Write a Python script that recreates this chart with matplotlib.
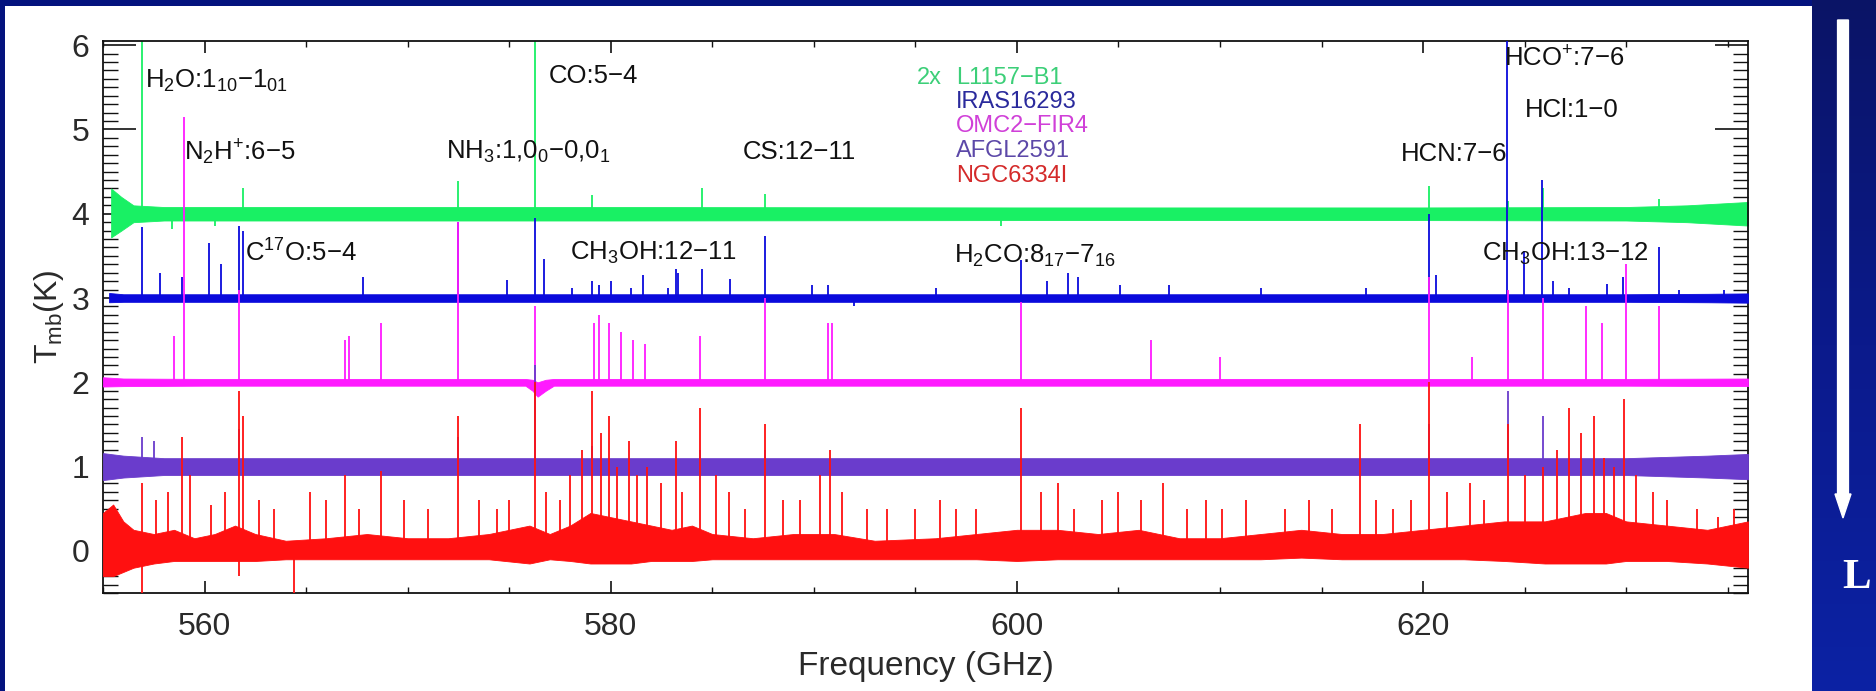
import numpy as np
import matplotlib
matplotlib.use("Agg")
import matplotlib.pyplot as plt
from matplotlib.patches import FancyArrow
from matplotlib.colors import LinearSegmentedColormap

plt.rcParams['font.family'] = ['Liberation Sans', 'DejaVu Sans']
plt.rcParams['mathtext.fontset'] = 'custom'
plt.rcParams['mathtext.rm'] = 'Liberation Sans'
plt.rcParams['mathtext.it'] = 'Liberation Sans'
plt.rcParams['mathtext.bf'] = 'Liberation Sans:bold'

# ---------------- data ----------------
sources = ["L1157\u2212B1", "IRAS16293", "OMC2\u2212FIR4", "AFGL2591", "NGC6334I"]
offsets = [4.0, 3.0, 2.0, 1.0, 0.0]

# noise envelopes (frequency knots, lower / upper deviation from baseline)
green_env_freq = [555.4, 555.9, 556.5, 558.0, 580.0, 600.0, 620.0, 630.0, 633.0, 634.5, 636.0]
green_env_lo = [-0.28, -0.2, -0.1, -0.08, -0.08, -0.075, -0.075, -0.08, -0.1, -0.12, -0.14]
green_env_hi = [0.3, 0.2, 0.1, 0.08, 0.08, 0.075, 0.075, 0.08, 0.1, 0.12, 0.14]

blue_env_freq = [555.3, 556.0, 560.0, 600.0, 630.0, 634.0, 636.0]
blue_env_lo = [-0.05, -0.045, -0.045, -0.045, -0.045, -0.05, -0.055]
blue_env_hi = [0.06, 0.045, 0.045, 0.045, 0.045, 0.05, 0.055]

magenta_env_freq = [555.0, 556.0, 560.0, 575.8, 576.15, 576.4, 576.8, 577.2, 600.0, 630.0, 636.0]
magenta_env_lo = [-0.05, -0.045, -0.04, -0.04, -0.1, -0.17, -0.1, -0.04, -0.04, -0.04, -0.045]
magenta_env_hi = [0.06, 0.045, 0.04, 0.04, 0.03, 0.0, 0.03, 0.04, 0.04, 0.04, 0.045]

purple_env_freq = [555.0, 556.0, 558.0, 580.0, 600.0, 630.0, 634.0, 636.0]
purple_env_lo = [-0.16, -0.13, -0.1, -0.1, -0.1, -0.1, -0.13, -0.15]
purple_env_hi = [0.16, 0.13, 0.1, 0.1, 0.1, 0.1, 0.13, 0.15]

red_env_freq = [555.0, 555.5, 556.0, 556.5, 557.5, 558.5, 559.5, 560.5, 561.5, 562.5, 564.0, 566.0,
                568.0, 570.0, 572.0, 574.0, 576.0, 577.0, 578.0, 579.0, 580.0, 581.0, 582.0, 583.0,
                584.0, 585.0, 587.0, 589.0, 591.0, 593.0, 596.0, 598.0, 600.0, 602.0, 604.0, 606.0,
                608.0, 610.0, 612.0, 614.0, 616.0, 618.0, 620.0, 622.0, 624.0, 626.0, 628.0, 629.0,
                630.0, 632.0, 634.0, 636.0]
red_env_lo = [-0.3, -0.3, -0.25, -0.2, -0.15, -0.12, -0.12, -0.12, -0.12, -0.12, -0.1, -0.1,
              -0.1, -0.1, -0.1, -0.1, -0.15, -0.1, -0.12, -0.15, -0.15, -0.15, -0.12, -0.12,
              -0.12, -0.1, -0.1, -0.1, -0.1, -0.1, -0.1, -0.1, -0.12, -0.1, -0.1, -0.1,
              -0.1, -0.1, -0.1, -0.08, -0.1, -0.1, -0.1, -0.1, -0.12, -0.15, -0.15, -0.15,
              -0.12, -0.12, -0.15, -0.2]
red_env_hi = [0.45, 0.55, 0.35, 0.25, 0.2, 0.25, 0.15, 0.2, 0.3, 0.2, 0.12, 0.15,
              0.2, 0.15, 0.15, 0.2, 0.3, 0.2, 0.3, 0.45, 0.4, 0.35, 0.3, 0.25,
              0.3, 0.2, 0.15, 0.2, 0.2, 0.12, 0.15, 0.2, 0.25, 0.25, 0.2, 0.25,
              0.15, 0.15, 0.2, 0.25, 0.2, 0.2, 0.25, 0.3, 0.35, 0.35, 0.45, 0.45,
              0.35, 0.3, 0.25, 0.35]

# spectral lines: frequency (GHz) and peak value (K, including offset)
green_line_freq = [556.94, 576.27, 572.50, 561.90, 579.10, 584.50, 587.60, 620.30, 625.90, 631.60,
                   558.40, 560.50, 599.20, 624.20]
green_line_peak = [6.5, 6.5, 4.39, 4.30, 4.22, 4.30, 4.24, 4.33, 4.30, 4.18,
                   3.82, 3.85, 3.86, 4.15]

blue_line_freq = [556.94, 557.80, 558.90, 560.20, 560.80, 561.70, 561.90, 567.80, 572.50, 574.90,
                  576.27, 576.70, 578.10, 579.10, 579.40, 580.00, 581.00, 581.60, 582.80, 583.20,
                  583.30, 584.50, 585.85, 587.60, 589.90, 590.70, 592.00, 596.00, 600.20, 601.50,
                  602.50, 603.00, 605.10, 607.50, 612.00, 617.20, 620.30, 620.65, 624.14, 624.98,
                  625.87, 626.40, 627.20, 629.06, 629.85, 631.60, 632.60, 634.80]
blue_line_peak = [3.84, 3.30, 3.25, 3.65, 3.40, 3.85, 3.80, 3.25, 3.90, 3.21,
                  3.95, 3.46, 3.12, 3.20, 3.15, 3.20, 3.12, 3.27, 3.12, 3.34,
                  3.30, 3.35, 3.23, 3.74, 3.15, 3.15, 2.90, 3.12, 3.45, 3.20,
                  3.30, 3.25, 3.15, 3.15, 3.12, 3.12, 4.00, 3.27, 6.5, 3.56,
                  4.40, 3.20, 3.12, 3.17, 3.25, 3.60, 3.10, 3.10]

magenta_line_freq = [558.50, 558.97, 561.70, 566.90, 567.10, 568.70, 572.50, 576.27, 579.20, 579.40,
                     579.90, 580.50, 581.10, 581.70, 584.40, 587.60, 590.70, 590.90, 600.20, 606.60,
                     610.00, 620.30, 622.40, 624.20, 625.90, 628.00, 628.80, 630.00, 631.60]
magenta_line_peak = [2.55, 5.15, 3.10, 2.50, 2.55, 2.70, 3.90, 2.90, 2.70, 2.80,
                     2.70, 2.60, 2.50, 2.45, 2.55, 3.00, 2.70, 2.70, 2.95, 2.50,
                     2.30, 3.25, 2.30, 3.10, 3.00, 2.90, 2.70, 3.40, 2.90]

purple_line_freq = [556.94, 557.50, 561.70, 572.50, 576.27, 579.10, 584.40, 587.60, 620.30, 624.20, 625.90]
purple_line_peak = [1.35, 1.30, 1.45, 1.35, 2.20, 1.25, 1.20, 1.20, 1.50, 1.90, 1.60]

red_line_freq = [556.94, 557.60, 558.20, 558.90, 559.30, 560.30, 561.00, 561.70, 561.90, 562.70,
                 563.40, 565.20, 566.00, 566.90, 567.60, 568.70, 569.80, 571.00, 572.50, 573.50,
                 574.40, 575.00, 576.27, 576.80, 577.50, 578.00, 578.60, 579.10, 579.50, 579.90,
                 580.30, 580.90, 581.30, 581.80, 582.50, 583.20, 583.50, 584.40, 585.20, 585.80,
                 586.60, 587.60, 588.50, 589.30, 590.30, 590.80, 591.40, 592.60, 593.60, 595.00,
                 596.20, 597.00, 598.00, 600.20, 601.20, 602.00, 602.80, 604.20, 605.00, 606.10,
                 607.20, 608.40, 609.30, 610.10, 611.30, 613.20, 614.40, 615.50, 616.90, 617.70,
                 618.50, 619.40, 620.30, 621.20, 622.30, 623.00, 624.20, 625.00, 625.90, 626.60,
                 627.20, 627.80, 628.40, 628.90, 629.40, 629.90, 630.50, 631.30, 632.00, 633.50,
                 634.50, 635.30]
red_line_peak = [0.80, 0.60, 0.70, 1.35, 0.90, 0.55, 0.70, 1.90, 1.60, 0.60,
                 0.50, 0.70, 0.60, 0.90, 0.50, 0.95, 0.60, 0.50, 1.60, 0.60,
                 0.50, 0.60, 2.00, 0.70, 0.60, 0.90, 1.20, 1.90, 1.40, 1.60,
                 1.00, 1.30, 0.90, 1.00, 0.80, 1.30, 0.70, 1.70, 0.90, 0.70,
                 0.50, 1.50, 0.60, 0.60, 0.90, 1.20, 0.70, 0.50, 0.50, 0.50,
                 0.60, 0.50, 0.50, 1.70, 0.70, 0.80, 0.50, 0.60, 0.70, 0.60,
                 0.80, 0.50, 0.60, 0.50, 0.60, 0.50, 0.60, 0.50, 1.50, 0.60,
                 0.50, 0.60, 2.00, 0.70, 0.80, 0.60, 1.50, 0.90, 1.00, 1.20,
                 1.70, 1.40, 1.60, 1.10, 1.00, 1.80, 0.90, 0.70, 0.60, 0.50,
                 0.40, 0.50]
red_dip_freq = [556.94, 564.40, 561.70]
red_dip_depth = [-0.6, -0.6, -0.3]

# annotations: text, frequency of left edge, value of vertical centre
label_text = ["H$_2$O:1$_{10}$\u22121$_{01}$", "N$_2$H$^{+}$:6\u22125", "NH$_3$:1,0$_0$\u22120,0$_1$",
              "CO:5\u22124", "CS:12\u221211", "C$^{17}$O:5\u22124", "CH$_3$OH:12\u221211",
              "H$_2$CO:8$_{17}$\u22127$_{16}$", "HCN:7\u22126", "HCO$^{+}$:7\u22126", "HCl:1\u22120",
              "CH$_3$OH:13\u221212"]
label_freq = [557.05, 559.0, 571.9, 576.95, 586.5, 562.0, 578.0, 596.9, 618.9, 624.0, 625.0, 622.9]
label_val = [5.58, 4.73, 4.73, 5.64, 4.73, 3.53, 3.53, 3.50, 4.71, 5.84, 5.23, 3.52]

# ---------------- styles ----------------
spec_colors = ["#19f064", "#0a0adc", "#ff1aff", "#6a3ccc", "#ff1010"]
legend_colors = ["#3ccf78", "#2a2a9c", "#d040d8", "#5c48a8", "#d42a2a"]

W, H = 1876, 691
fig = plt.figure(figsize=(W / 100, H / 100), dpi=100)
fig.patch.set_facecolor("#04137e")

# white panel as a background axes
bg = fig.add_axes([5 / W, 0, (1812 - 5) / W, (H - 6) / H], zorder=-10)
bg.set_facecolor("white")
bg.set_xticks([])
bg.set_yticks([])
for s in bg.spines.values():
    s.set_visible(False)

# right gradient strip
sax = fig.add_axes([1812 / W, 0, (W - 1812) / W, 1], zorder=-10)
grad = np.linspace(0, 1, 256).reshape(-1, 1)
cmap = LinearSegmentedColormap.from_list("strip", ["#0a1466", "#0b1a8c", "#0c22a4"])
sax.imshow(grad, aspect="auto", cmap=cmap, extent=[0, 1, 1, 0])
sax.set_xlim(0, 1)
sax.set_ylim(1, 0)
sax.set_axis_off()

fig.patches.append(FancyArrow(1843 / W, 1 - 20 / H, 0, -(518 - 20) / H, width=4 / H,
                              head_width=16 / W, head_length=24 / H, length_includes_head=True,
                              transform=fig.transFigure, color="white", zorder=10))
fig.text(1857 / W, 1 - 578 / H, "L", color="white", fontsize=31, fontweight="bold",
         family="Liberation Serif", ha="center", va="center", zorder=10)

ax = fig.add_axes([103 / W, 1 - 593 / H, (1748 - 103) / W, (593 - 41) / H], zorder=1)
ax.set_facecolor("white")
ax.set_xlim(555, 636)
ax.set_ylim(-0.5, 6.05)

envs = [(green_env_freq, green_env_lo, green_env_hi),
        (blue_env_freq, blue_env_lo, blue_env_hi),
        (magenta_env_freq, magenta_env_lo, magenta_env_hi),
        (purple_env_freq, purple_env_lo, purple_env_hi),
        (red_env_freq, red_env_lo, red_env_hi)]
lines = [(green_line_freq, green_line_peak),
         (blue_line_freq, blue_line_peak),
         (magenta_line_freq, magenta_line_peak),
         (purple_line_freq, purple_line_peak),
         (red_line_freq, red_line_peak)]

for i, (off, col) in enumerate(zip(offsets, spec_colors)):
    f, lo, hi = envs[i]
    f = np.asarray(f)
    ax.fill_between(f, off + np.asarray(lo), off + np.asarray(hi), color=col, lw=0.6,
                    edgecolor=col, zorder=2 + i)
    lf, lp = lines[i]
    ax.vlines(lf, off, lp, color=col, lw=1.3, zorder=2 + i)

ax.vlines(red_dip_freq, 0.0, red_dip_depth, color=spec_colors[4], lw=1.3, zorder=6)

# axes styling
for s in ax.spines.values():
    s.set_linewidth(1.3)
    s.set_color("#111111")
ax.set_xticks([560, 580, 600, 620])
ax.set_xticks(np.arange(555, 637, 5), minor=True)
ax.set_yticks([0, 1, 2, 3, 4, 5, 6])
ax.set_yticks(np.arange(-0.5, 6.05, 0.1), minor=True)
ax.tick_params(axis="x", which="major", direction="in", length=8.5, width=1.2, top=True,
               labelsize=23, pad=14, colors="#111111", labelcolor="#2a2a2a")
ax.tick_params(axis="x", which="minor", direction="in", length=4.5, width=1.0, top=True,
               colors="#111111")
ax.tick_params(axis="y", which="major", direction="in", length=24, width=1.2, right=True,
               labelsize=23, pad=10, colors="#111111", labelcolor="#2a2a2a")
ax.tick_params(axis="y", which="minor", direction="in", length=11, width=1.0, right=True,
               colors="#111111")
ax.set_xlabel("Frequency (GHz)", fontsize=24, color="#2a2a2a", labelpad=6)
ax.set_ylabel("T$_{\\mathrm{mb}}$(K)", fontsize=23, color="#2a2a2a", labelpad=4)

for t, fq, v in zip(label_text, label_freq, label_val):
    ax.text(fq, v, t, fontsize=18.5, color="#111111", ha="left", va="center", zorder=20)

# legend-like labels
ax.text(595.06, 5.61, "2x", fontsize=17, color=legend_colors[0], ha="left", va="center", zorder=20)
leg_vals = [5.61, 5.33, 5.04, 4.74, 4.45]
for name, col, v in zip(sources, legend_colors, leg_vals):
    ax.text(597.0, v, name, fontsize=17, color=col, ha="left", va="center", zorder=20)

fig.savefig("out.png", dpi=100, facecolor=fig.get_facecolor())
